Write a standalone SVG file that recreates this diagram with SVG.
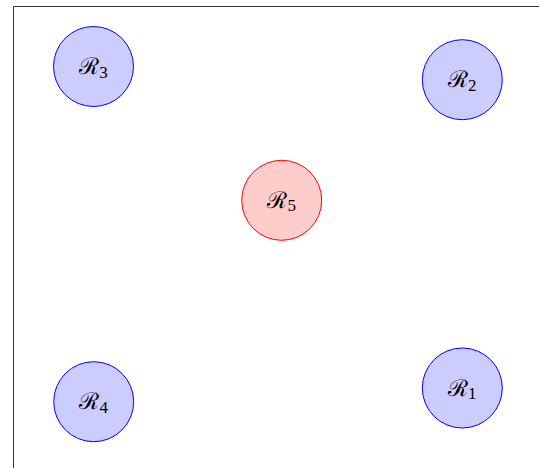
<svg xmlns="http://www.w3.org/2000/svg" width="539" height="468" viewBox="0 0 539 468">
<style>
.blue{fill:#ccccff;stroke:#0000ff;stroke-width:1}
.red{fill:#ffcccc;stroke:#ff0000;stroke-width:1}
.lbl{font-family:"DejaVu Serif","Liberation Serif",serif;font-size:23px;fill:#000;text-anchor:middle}
.sub{font-family:"Liberation Serif","DejaVu Serif",serif;font-size:17px}
.frame{fill:none;stroke:#333;stroke-width:1}
</style>
<rect width="539" height="468" fill="#fff"/>
<path class="frame" d="M13.5,468 V6.5 H539"/>
<g id="connectors"></g>
<g id="R3"><circle class="blue" cx="93.5" cy="66.5" r="40"/><text class="lbl" x="93.5" y="74">ℛ<tspan class="sub" dy="3.5">3</tspan></text></g>
<g id="R2"><circle class="blue" cx="462.3" cy="79.7" r="40"/><text class="lbl" x="462.3" y="87.2">ℛ<tspan class="sub" dy="3.5">2</tspan></text></g>
<g id="R5"><circle class="red" cx="281.7" cy="200.3" r="40"/><text class="lbl" x="281.7" y="207.8">ℛ<tspan class="sub" dy="3.5">5</tspan></text></g>
<g id="R4"><circle class="blue" cx="93.7" cy="401.7" r="40"/><text class="lbl" x="93.7" y="409.2">ℛ<tspan class="sub" dy="3.5">4</tspan></text></g>
<g id="R1"><circle class="blue" cx="462.3" cy="388" r="40"/><text class="lbl" x="462.3" y="395.5">ℛ<tspan class="sub" dy="3.5">1</tspan></text></g>
</svg>
